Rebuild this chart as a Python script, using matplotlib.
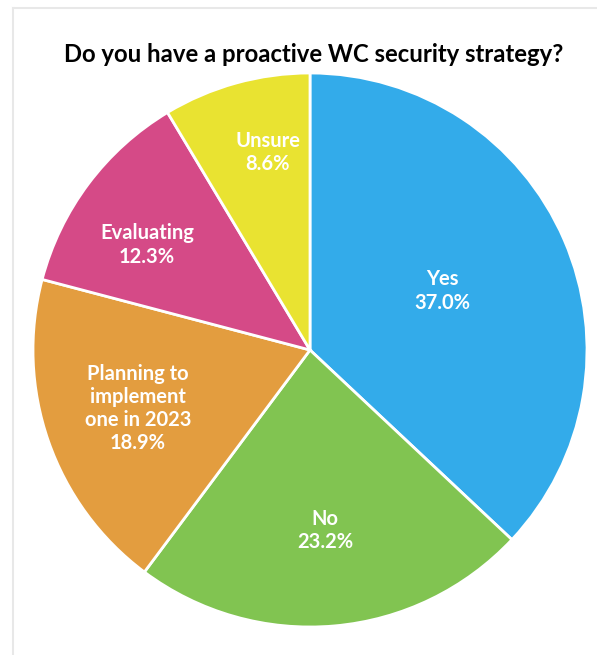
import matplotlib
matplotlib.use("Agg")
import matplotlib.pyplot as plt
from matplotlib.lines import Line2D

# Survey answers, clockwise from 12 o'clock
categories = ["Yes", "No", "Planning to\nimplement\none in 2023", "Evaluating", "Unsure"]
shares = [37.0, 23.2, 18.9, 12.3, 8.6]
colors = ["#33ABEA", "#81C451", "#E39D3F", "#D54A87", "#E9E331"]
title = "Do you have a proactive WC security strategy?"

# label anchor points, in units of the pie radius
label_xy = [(0.477, 0.213), (0.054, -0.652), (-0.621, -0.211),
            (-0.588, 0.379), (-0.152, 0.713)]

W, H, DPI = 597, 655, 100
fig = plt.figure(figsize=(W / DPI, H / DPI), dpi=DPI)
fig.patch.set_facecolor("white")

# pie geometry in pixels
cx, cy, R = 310, 350, 277
ax = fig.add_axes([(cx - R) / W, (H - cy - R) / H, 2 * R / W, 2 * R / H])
ax.pie(shares, colors=colors, startangle=90, counterclock=False, radius=1,
       wedgeprops=dict(edgecolor="white", linewidth=2))
ax.set_xlim(-1.0, 1.0)
ax.set_ylim(-1.0, 1.0)
ax.set_aspect("equal")
ax.axis("off")

font = "Lato"
for cat, val, (x, y) in zip(categories, shares, label_xy):
    ax.text(x, y, f"{cat}\n{val:.1f}%", ha="center", va="center",
            color="white", fontsize=14.5, fontweight="bold", family=font,
            linespacing=1.2)

fig.text(313.5 / W, 1 - 55 / H, title, ha="center", va="center",
         fontsize=17.2, fontweight="bold", family=font, color="black")

# thin frame around the chart area
fig.add_artist(Line2D([13 / W, 13 / W], [0, 1 - 8 / H], transform=fig.transFigure,
                      color="#E8E8E8", linewidth=1.5))
fig.add_artist(Line2D([13 / W, 1], [1 - 8 / H, 1 - 8 / H], transform=fig.transFigure,
                      color="#E8E8E8", linewidth=1.5))

fig.savefig("out.png", dpi=DPI)
